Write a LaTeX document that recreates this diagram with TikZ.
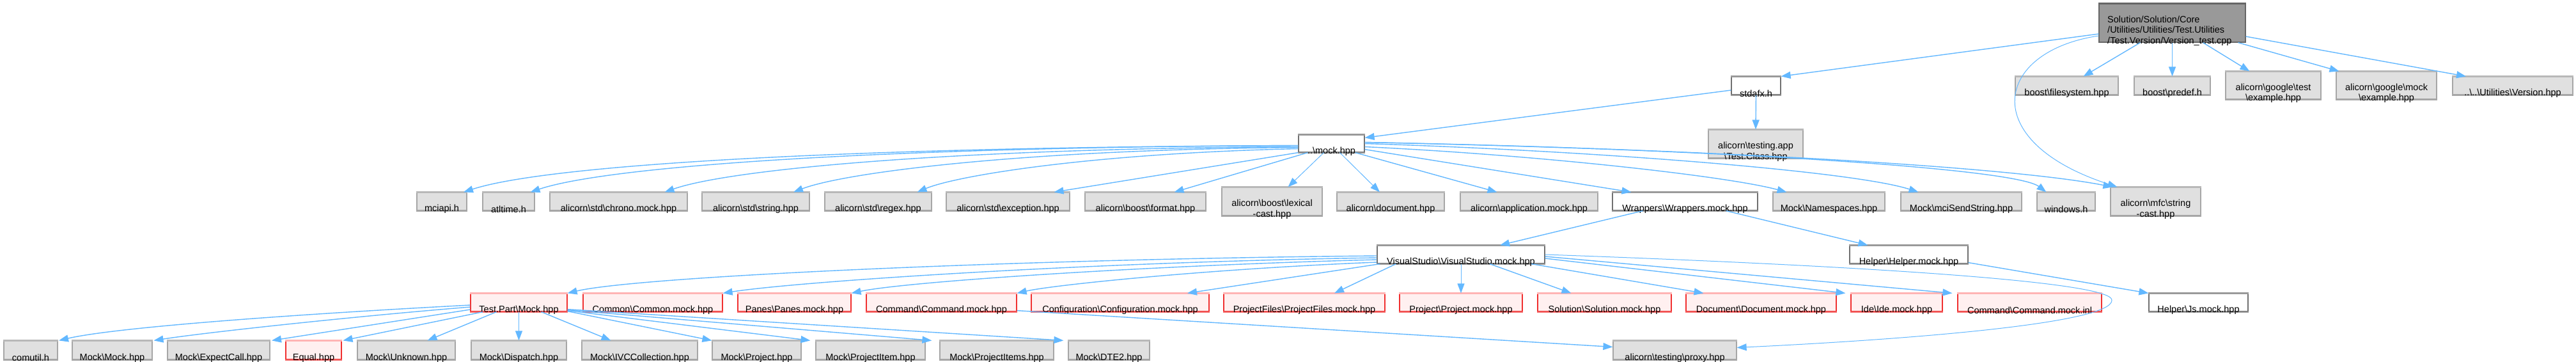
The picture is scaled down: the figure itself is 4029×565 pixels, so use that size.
\documentclass[tikz,border=0pt]{standalone}
\usepackage{fontspec}
\setmainfont{Liberation Sans}
\usetikzlibrary{arrows.meta,calc}
\definecolor{edgeblue}{HTML}{63B8FF}
\definecolor{gfill}{HTML}{E0E0E0}
\definecolor{gdraw}{HTML}{A6A6A6}
\definecolor{gtopc}{HTML}{B8B8B8}
\definecolor{wfill}{HTML}{FFFFFF}
\definecolor{wdraw}{HTML}{707070}
\definecolor{wtopc}{HTML}{9A9A9A}
\definecolor{rfill}{HTML}{FFF0F0}
\definecolor{rdraw}{HTML}{F03030}
\definecolor{rtopc}{HTML}{FFB4B4}
\definecolor{kfill}{HTML}{999999}
\definecolor{kdraw}{HTML}{666666}
\newcommand\dbs{\textbackslash}
\tikzset{
  gbox/.style={rectangle, draw=gdraw, fill=gfill, line width=1.2pt, inner sep=0pt},
  gtop/.style={draw=gtopc, line width=3pt},
  gbot/.style={draw=gdraw, line width=2pt},
  wbox/.style={rectangle, draw=wdraw, fill=wfill, line width=1.2pt, inner sep=0pt},
  wtop/.style={draw=wtopc, line width=3pt},
  wbot/.style={draw=wtopc, line width=2pt},
  rbox/.style={rectangle, draw=rdraw, fill=rfill, line width=1.2pt, inner sep=0pt},
  rtop/.style={draw=rtopc, line width=3pt},
  rbot/.style={draw=rdraw!70, line width=2pt},
  kbox/.style={rectangle, draw=kdraw, fill=kfill, line width=1.2pt, inner sep=0pt},
  lbl/.style={font=\fontsize{14.5}{16.5}\selectfont, align=center, inner sep=0pt, text=black},
  dep/.style={draw=edgeblue, line width=1.4pt, -{Triangle[length=15pt,width=11pt]}},
}
\newcommand\dnode[7]{%
  \node[#2box, minimum width={#5-#3}, minimum height={#6-#4}] (#1) at ({(#3+#5)/2},{(#4+#6)/2}) {};
  \draw[#2top] (#1.north west) -- (#1.north east);
  \draw[#2bot] (#1.south west) -- (#1.south east);
  \node[lbl] (#1t) at ([yshift=-12pt]#1.center) {#7};
}
\begin{document}
\begin{tikzpicture}[x=1pt,y=-1pt]
\fill[white] (0,0) rectangle (4029,565);
\useasboundingbox (0,0) rectangle (4029,565);

% root
\node[kbox, minimum width=229, minimum height=60] (root) at (3397.5,36) {};
\draw[draw=kdraw, line width=3pt] (root.north west) -- (root.north east);
\node[lbl, align=left, anchor=west] (roott) at (3296,48) {Solution/Solution/Core\\/Utilities/Utilities/Test.Utilities\\/Test.Version/Version\_test.cpp};

% row 1
\dnode{stdafx}{w}{2708}{120}{2785}{148}{stdafx.h}
\dnode{fsys}{g}{3152}{120}{3313}{148}{boost\dbs filesystem.hpp}
\dnode{predef}{g}{3338}{120}{3457}{148}{boost\dbs predef.h}
\dnode{gtest}{g}{3481}{112}{3630}{155}{alicorn\dbs google\dbs test\\\dbs example.hpp}
\dnode{gmock}{g}{3654}{112}{3811}{155}{alicorn\dbs google\dbs mock\\\dbs example.hpp}
\dnode{version}{g}{3836}{120}{4024}{148}{..\dbs ..\dbs Utilities\dbs Version.hpp}
\dnode{testapp}{g}{2672}{203}{2820}{247}{alicorn\dbs testing.app\\\dbs Test.Class.hpp}
\dnode{mock}{w}{2031}{211}{2134}{238}{..\dbs mock.hpp}

% row 3
\dnode{mciapi}{g}{652}{301}{730}{329}{mciapi.h}
\dnode{atltime}{g}{755}{301}{836}{329}{atltime.h}
\dnode{chrono}{g}{860}{301}{1075}{329}{alicorn\dbs std\dbs chrono.mock.hpp}
\dnode{stdstring}{g}{1098}{301}{1266}{329}{alicorn\dbs std\dbs string.hpp}
\dnode{regex}{g}{1290}{301}{1457}{329}{alicorn\dbs std\dbs regex.hpp}
\dnode{exception}{g}{1480}{301}{1673}{329}{alicorn\dbs std\dbs exception.hpp}
\dnode{format}{g}{1697}{301}{1886}{329}{alicorn\dbs boost\dbs format.hpp}
\dnode{lexical}{g}{1911}{293}{2068}{337}{alicorn\dbs boost\dbs lexical\\-cast.hpp}
\dnode{document}{g}{2091}{301}{2259}{329}{alicorn\dbs document.hpp}
\dnode{application}{g}{2284}{301}{2499}{329}{alicorn\dbs application.mock.hpp}
\dnode{wrappers}{w}{2522}{301}{2749}{329}{Wrappers\dbs Wrappers.mock.hpp}
\dnode{namespaces}{g}{2773}{301}{2948}{329}{Mock\dbs Namespaces.hpp}
\dnode{mcisend}{g}{2973}{301}{3162}{329}{Mock\dbs mciSendString.hpp}
\dnode{windows}{g}{3186}{301}{3277}{329}{windows.h}
\dnode{strcast}{g}{3301}{293}{3442}{337}{alicorn\dbs mfc\dbs string\\-cast.hpp}

% row 4
\dnode{visual}{w}{2154}{384}{2416}{412}{VisualStudio\dbs VisualStudio.mock.hpp}
\dnode{helper}{w}{2893}{384}{3078}{412}{Helper\dbs Helper.mock.hpp}

% row 5
\dnode{testpart}{r}{736}{459}{887}{487}{Test.Part\dbs Mock.hpp}
\dnode{common}{r}{912}{459}{1130}{487}{Common\dbs Common.mock.hpp}
\dnode{panes}{r}{1154}{459}{1331}{487}{Panes\dbs Panes.mock.hpp}
\dnode{command}{r}{1355}{459}{1590}{487}{Command\dbs Command.mock.hpp}
\dnode{config}{r}{1613}{459}{1891}{487}{Configuration\dbs Configuration.mock.hpp}
\dnode{projfiles}{r}{1914}{459}{2166}{487}{ProjectFiles\dbs ProjectFiles.mock.hpp}
\dnode{projmock}{r}{2189}{459}{2381}{487}{Project\dbs Project.mock.hpp}
\dnode{solution}{r}{2405}{459}{2614}{487}{Solution\dbs Solution.mock.hpp}
\dnode{docmock}{r}{2637}{459}{2872}{487}{Document\dbs Document.mock.hpp}
\dnode{ide}{r}{2895}{459}{3038}{487}{Ide\dbs Ide.mock.hpp}
\dnode{cmdinl}{r}{3062}{459}{3287}{487}{Command\dbs Command.mock.inl}
\dnode{js}{w}{3361}{459}{3516}{487}{Helper\dbs Js.mock.hpp}

% row 6
\dnode{comutil}{g}{6}{533}{90}{562}{comutil.h}
\dnode{mmock}{g}{113}{533}{238}{562}{Mock\dbs Mock.hpp}
\dnode{expect}{g}{262}{533}{422}{562}{Mock\dbs ExpectCall.hpp}
\dnode{equal}{r}{447}{533}{534}{562}{Equal.hpp}
\dnode{unknown}{g}{559}{533}{712}{562}{Mock\dbs Unknown.hpp}
\dnode{dispatch}{g}{737}{533}{886}{562}{Mock\dbs Dispatch.hpp}
\dnode{ivcc}{g}{910}{533}{1091}{562}{Mock\dbs IVCCollection.hpp}
\dnode{mproject}{g}{1114}{533}{1253}{562}{Mock\dbs Project.hpp}
\dnode{projitem}{g}{1276}{533}{1447}{562}{Mock\dbs ProjectItem.hpp}
\dnode{projitems}{g}{1470}{533}{1648}{562}{Mock\dbs ProjectItems.hpp}
\dnode{dte2}{g}{1671}{533}{1798}{562}{Mock\dbs DTE2.hpp}
\dnode{proxy}{g}{2523}{533}{2716}{562}{alicorn\dbs testing\dbs proxy.hpp}

% ---- edges: root
\draw[dep] ([yshift=-17pt]root.west) -- (stdafx.north east);
\draw[dep] ([xshift=-50pt]root.south) -- ([xshift=26pt]fsys.north);
\draw[dep] (root.south) -- (predef.north);
\draw[dep] ([xshift=48pt]root.south) -- ([xshift=-37pt]gtest.north);
\draw[dep] ([xshift=103pt]root.south) -- ([xshift=-74pt]gmock.north);
\draw[dep] ([yshift=-21pt]root.east) -- ([xshift=-73pt]version.north);
\draw[dep, line width=1pt] ([yshift=-20pt]root.west) .. controls (3120,80) and (3090,220) .. ([xshift=-60pt]strcast.north);

% stdafx
\draw[dep] ([yshift=-7pt]stdafx.west) -- ([yshift=-5pt]mock.north east);
\draw[dep] (stdafx.south) -- (testapp.north);

% mock.hpp
\draw[dep] ([yshift=-3pt]mock.west) .. controls (1313,230) and (855,258) .. ([xshift=34pt]mciapi.north);
\draw[dep] ([yshift=-3pt]mock.west) .. controls (1370,230) and (950,260) .. ([xshift=34pt]atltime.north);
\draw[dep] ([yshift=-5pt]mock.west) .. controls (1486,232) and (1140,265) .. ([xshift=72pt]chrono.north);
\draw[dep] ([yshift=-6pt]mock.west) .. controls (1597,234) and (1320,270) .. ([xshift=59pt]stdstring.north);
\draw[dep] ([yshift=-8pt]mock.west) .. controls (1703,240) and (1495,275) .. ([xshift=61pt]regex.north);
\draw[dep] (mock.south west) -- ([xshift=72pt]exception.north);
\draw[dep] ([xshift=15pt]mock.south west) -- ([xshift=45pt]format.north);
\draw[dep, line width=1pt] ([xshift=-12pt]mock.south) -- ([xshift=25pt]lexical.north);
\draw[dep, line width=1pt] ([xshift=13pt]mock.south) -- ([xshift=-17pt]document.north);
\draw[dep] ([xshift=-15pt]mock.south east) -- ([xshift=-50pt]application.north);
\draw[dep] ([yshift=5pt]mock.south east) -- ([xshift=-84pt]wrappers.north);
\draw[dep] ([yshift=-5pt]mock.east) .. controls (2400,242) and (2700,275) .. ([xshift=-66pt]namespaces.north);
\draw[dep] (mock.east) .. controls (2500,236) and (2900,268) .. ([xshift=-67pt]mcisend.north);
\draw[dep] ([yshift=2pt]mock.east) .. controls (2650,232) and (3150,262) .. ([xshift=-31pt]windows.north);
\draw[dep] ([yshift=2pt]mock.east) .. controls (2700,234) and (3150,262) .. ([xshift=4pt]strcast.north west);

% wrappers
\draw[dep] ([xshift=-66pt]wrappers.south) -- ([xshift=61pt]visual.north);
\draw[dep] ([xshift=64pt]wrappers.south) -- ([xshift=-64pt]helper.north);

% visual studio
\draw[dep] ([yshift=-2pt]visual.west) .. controls (1600,405) and (1000,432) .. (testpart.north east);
\draw[dep] ([yshift=-5pt]visual.west) .. controls (1700,410) and (1250,440) .. (common.north east);
\draw[dep] ([yshift=-8pt]visual.west) .. controls (1800,415) and (1420,440) .. (panes.north east);
\draw[dep] ([yshift=-12pt]visual.west) .. controls (1900,420) and (1650,445) .. (command.north east);
\draw[dep] ([xshift=5pt]visual.south west) -- ([xshift=105pt]config.north);
\draw[dep] ([xshift=30pt]visual.south west) -- ([xshift=47pt]projfiles.north);
\draw[dep, line width=1pt] (visual.south) -- (projmock.north);
\draw[dep] ([xshift=45pt]visual.south) -- ([xshift=-52pt]solution.north);
\draw[dep] ([xshift=110pt]visual.south) -- ([xshift=-90pt]docmock.north);
\draw[dep] ([yshift=-6pt]visual.east) -- ([xshift=-8pt]ide.north west);
\draw[dep] ([yshift=-3pt]visual.east) -- ([xshift=-8pt]cmdinl.north west);
\draw[dep, line width=1pt] (visual.east) .. controls (2900,415) and (3310,440) .. (3303,470) .. controls (3300,505) and (3000,530) .. ([yshift=4pt]proxy.east);

% helper
\draw[dep] ([yshift=2pt]helper.south east) -- (js.north west);

% command -> proxy
\draw[dep] ([yshift=2pt]command.south east) -- ([yshift=5pt]proxy.west);

% test.part
\draw[dep] ([yshift=-4pt]testpart.west) .. controls (450,492) and (180,512) .. ([xshift=44pt]comutil.north);
\draw[dep] ([yshift=-7pt]testpart.west) .. controls (550,495) and (320,520) .. ([xshift=65pt]mmock.north);
\draw[dep] ([yshift=-11pt]testpart.west) -- ([xshift=83pt]expect.north);
\draw[dep] ([xshift=20pt]testpart.south west) -- ([xshift=46pt]equal.north);
\draw[dep] ([xshift=-35pt]testpart.south) -- ([xshift=33pt]unknown.north);
\draw[dep, line width=1pt] (testpart.south) -- (dispatch.north);
\draw[dep] ([xshift=35pt]testpart.south) -- ([xshift=-45pt]ivcc.north);
\draw[dep] ([yshift=1pt]testpart.south east) -- (mproject.north west);
\draw[dep] ([yshift=2pt]testpart.south east) -- ([xshift=-8pt]projitem.north west);
\draw[dep] ([yshift=3pt]testpart.south east) -- ([xshift=-12pt]projitems.north west);
\draw[dep] ([yshift=4pt]testpart.south east) -- ([xshift=-7pt]dte2.north west);
\end{tikzpicture}
\end{document}
